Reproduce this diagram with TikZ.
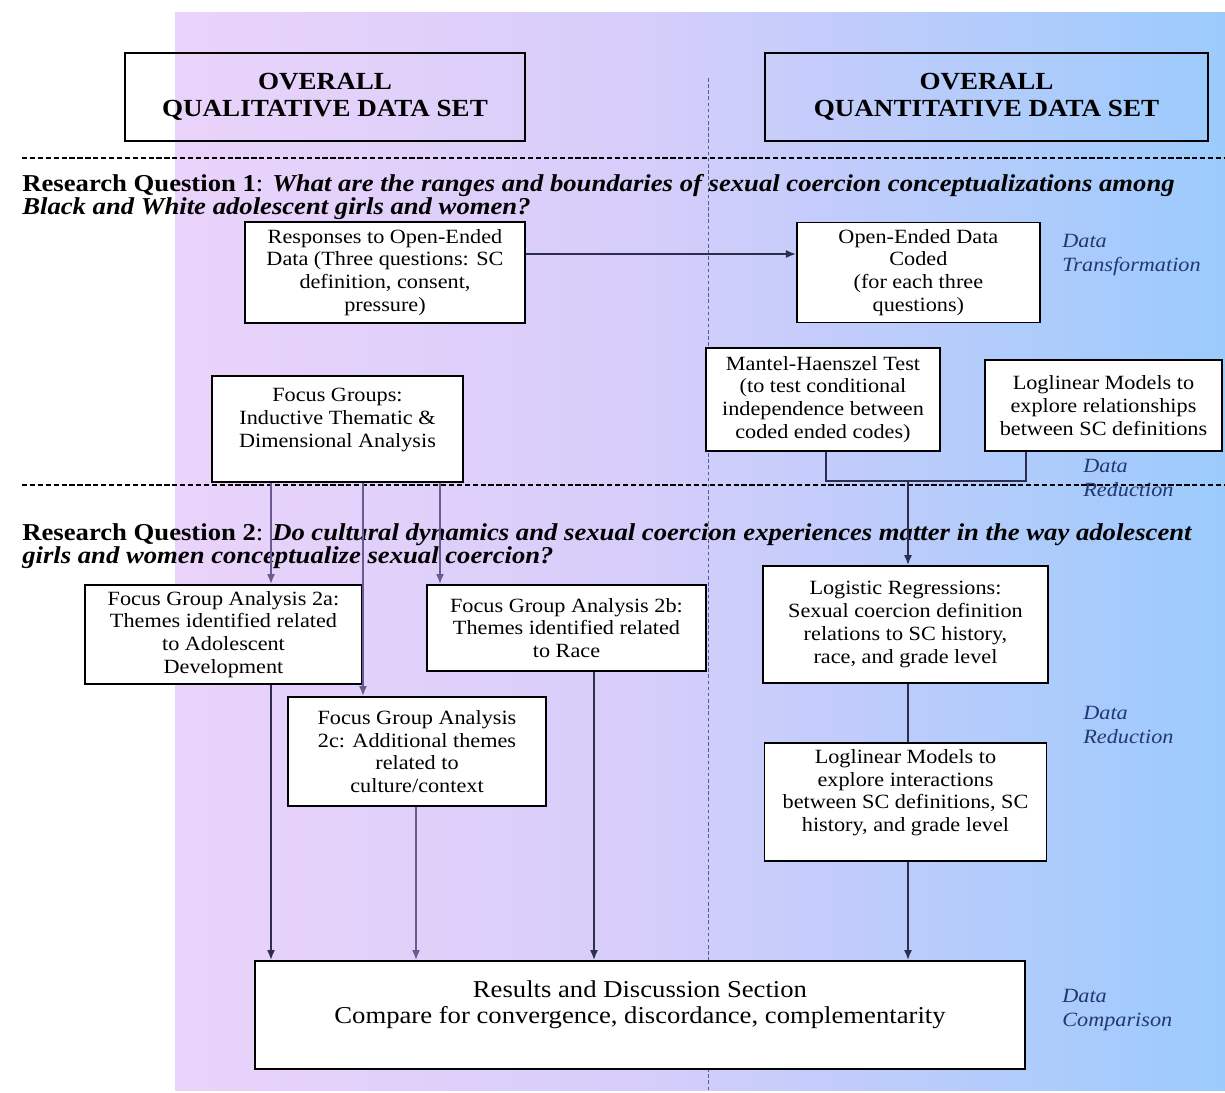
\documentclass[tikz,border=0pt]{standalone}
\usepackage{fontspec}
\setmainfont[FakeStretch=1.1]{Liberation Serif}
\usetikzlibrary{positioning,arrows.meta}
\definecolor{lilac}{RGB}{234,211,250}
\definecolor{lavmid}{RGB}{214,205,250}
\definecolor{periwink}{RGB}{180,200,250}
\definecolor{skyblue}{RGB}{155,203,252}
\definecolor{linkgray}{RGB}{45,45,80}
\definecolor{linkmauve}{RGB}{105,90,145}
\definecolor{notenavy}{RGB}{35,55,115}
\tikzset{
  box/.style={draw=black, line width=1.1pt, fill=white, align=center, inner sep=2pt,
    font=\fontsize{11.5}{13}\selectfont},
  titlebox/.style={draw=black, line width=1.1pt, align=center,
    font=\bfseries\fontsize{14}{15.3}\selectfont},
  link/.style={draw=linkgray, line width=0.9pt},
  softlink/.style={draw=linkmauve, line width=0.9pt},
  phase/.style={anchor=north west, align=left, inner sep=0pt, text=notenavy,
    font=\itshape\fontsize{11.5}{13.5}\selectfont},
  question/.style={anchor=north west, align=left, inner sep=0pt,
    font=\bfseries\fontsize{13.8}{13.2}\selectfont},
  >={Latex[length=2mm,width=1.6mm]}
}
\begin{document}
\begin{tikzpicture}[x=0.02cm, y=-0.02cm]
    \useasboundingbox (0,0) rectangle (1225,1093);
    % background
    \shade[left color=lilac, right color=lavmid] (175,12) rectangle (641,1090);
    \shade[left color=lavmid, middle color=periwink, right color=skyblue] (640,12) rectangle (1225,1090);
    \draw[gray!70!blue, line width=0.5pt, dash pattern=on 2pt off 1.5pt] (708,78) -- (708,1090);
    \draw[black, line width=0.8pt, dash pattern=on 3pt off 1.5pt] (22,158) -- (1225,158);
    \draw[black, line width=0.8pt, dash pattern=on 3pt off 1.5pt] (22,485) -- (1225,485);

    % data sets
    \node (qual) [titlebox, minimum width=8cm, minimum height=1.76cm] at (325,97) {OVERALL\\QUALITATIVE DATA SET};
    \node (quant) [titlebox, minimum width=8.86cm, minimum height=1.76cm] at (986.5,97) {OVERALL\\QUANTITATIVE DATA SET};

    % research questions
    \node (rq1) [question] at (22,174) {Research Question 1\textmd{:} \textit{What are the ranges and boundaries of sexual coercion conceptualizations among}\\
      \textit{Black and White adolescent girls and women?}};
    \node (rq2) [question] at (22,523) {Research Question 2\textmd{:} \textit{Do cultural dynamics and sexual coercion experiences matter in the way adolescent}\\
      \textit{girls and women conceptualize sexual coercion?}};

    % qualitative strand
    \node (resp) [box, minimum width=5.6cm, minimum height=2.02cm] at (385,272.5) {Responses to Open-Ended\\Data (Three questions: SC\\definition, consent,\\pressure)};
    \node (focus) [box, minimum width=5.02cm, minimum height=2.12cm] at (337.5,429) {Focus Groups:\\Inductive Thematic \&\\Dimensional Analysis\\ ~};
    \node (fg2a) [box, minimum width=5.54cm, minimum height=1.98cm] at (223.5,634.5) {Focus Group Analysis 2a:\\Themes identified related\\to Adolescent\\Development};
    \node (fg2b) [box, minimum width=5.58cm, minimum height=1.72cm] at (566.5,628) {Focus Group Analysis 2b:\\Themes identified related\\to Race};
    \node (fg2c) [box, minimum width=5.16cm, minimum height=2.18cm] at (417,751.5) {Focus Group Analysis\\2c: Additional themes\\related to\\culture/context};

    % quantitative strand
    \node (coded) [box, minimum width=4.86cm, minimum height=2cm, node distance=10.67cm, right of=resp] {Open-Ended Data\\Coded\\(for each three\\questions)};
    \node (mantel) [box, minimum width=4.68cm, minimum height=2.06cm] at (823,399.5) {Mantel-Haenszel Test\\(to test conditional\\independence between\\coded ended codes)};
    \node (logl1) [box, minimum width=4.74cm, minimum height=1.82cm] at (1103.5,405.5) {Loglinear Models to\\explore relationships\\between SC definitions};
    \node (logreg) [box, minimum width=5.7cm, minimum height=2.34cm] at (905.5,624.5) {Logistic Regressions:\\Sexual coercion definition\\relations to SC history,\\race, and grade level};
    \node (logl2) [box, minimum width=5.64cm, minimum height=2.36cm, node distance=3.55cm, below of=logreg] {Loglinear Models to\\explore interactions\\between SC definitions, SC\\history, and grade level\\ ~};

    \node (results) [box, minimum width=15.4cm, minimum height=2.16cm, font=\fontsize{13.8}{15}\selectfont] at (640,1015) {Results and Discussion Section\\Compare for convergence, discordance, complementarity\\ ~};

    % phase labels
    \node (trans) [phase] at (1062,234) {Data\\Transformation};
    \node (red1) [phase] at (1083,459) {Data\\Reduction};
    \node (red2) [phase] at (1083,706) {Data\\Reduction};
    \node (comp) [phase] at (1062,989) {Data\\Comparison};

    % connectors
    \draw[link, ->] ([yshift=0.37cm]resp.east) -- ([yshift=0.37cm]coded.west);
    \draw[softlink, ->] (focus.south -| 271,0) -- (fg2a.north -| 271,0);
    \draw[softlink, ->] (focus.south -| 363,0) -- (fg2c.north -| 363,0);
    \draw[softlink, ->] (focus.south -| 440,0) -- (fg2b.north -| 440,0);
    \coordinate (join) at (908,481);
    \draw[link] (mantel.south -| 826,0) |- (join) -| (logl1.south -| 1026,0);
    \draw[link, ->] (join) -- (logreg.north -| join);
    \draw[link] (logreg.south -| join) -- (logl2.north -| join);
    \draw[link, ->] (fg2a.south -| 271,0) -- (results.north -| 271,0);
    \draw[softlink, ->] (fg2c.south -| 416,0) -- (results.north -| 416,0);
    \draw[link, ->] (fg2b.south -| 594,0) -- (results.north -| 594,0);
    \draw[link, ->] (logl2.south -| join) -- (results.north -| join);
  \end{tikzpicture}
\end{document}
